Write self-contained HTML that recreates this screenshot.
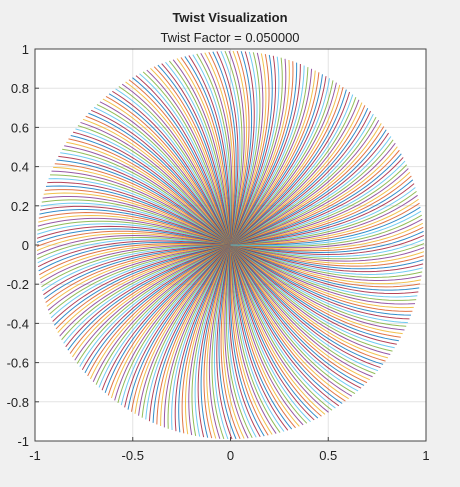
<!DOCTYPE html>
<html><head><meta charset="utf-8"><style>
html,body{margin:0;padding:0;background:#f0f0f0;}
svg{display:block;font-family:"Liberation Sans",sans-serif;}
</style></head><body>
<svg id="chart" width="460" height="487" viewBox="0 0 460 487">
<rect x="0" y="0" width="460" height="487" fill="#f0f0f0"/>
<text x="230" y="22" text-anchor="middle" font-size="13" font-weight="bold" fill="#222">Twist Visualization</text>
<text x="230" y="42" text-anchor="middle" font-size="13" fill="#222">Twist Factor = 0.050000</text>
<rect x="35" y="49" width="391" height="392" fill="#fff"/>
<g id="grid"></g><g id="lines"></g><g id="axes"></g>
</svg>
<script>
const xTicks=[-1,-0.5,0,0.5,1];
const yTicks=[-1,-0.8,-0.6,-0.4,-0.2,0,0.2,0.4,0.6,0.8,1];
const xTickLabels=["-1","-0.5","0","0.5","1"];
const yTickLabels=["-1","-0.8","-0.6","-0.4","-0.2","0","0.2","0.4","0.6","0.8","1"];
const lineCount=[300];
const twistAmount=[0.2];
const colors=["#0072BD","#D95319","#EDB120","#7E2F8E","#77AC30","#4DBEEE","#A2142F"];
const L=35,R=426,T=49,B=441;
const sx=v=>L+(v+1)/2*(R-L), sy=v=>B-(v+1)/2*(B-T);
const NS="http://www.w3.org/2000/svg";
const grid=document.getElementById('grid'),lines=document.getElementById('lines'),axes=document.getElementById('axes');
function mk(tag,attrs,parent){const e=document.createElementNS(NS,tag);for(const k in attrs)e.setAttribute(k,attrs[k]);parent.appendChild(e);return e;}
xTicks.forEach((v,i)=>{
 const g=mk('line',{x1:sx(v),x2:sx(v),y1:T,y2:B,stroke:'#e3e3e3','stroke-width':1},grid);
 
 
 const t=mk('line',{x1:sx(v),x2:sx(v),y1:B,y2:B-4,stroke:'#444'},axes);
 
 
 const l=mk('text',{x:sx(v),y:B+19,'text-anchor':'middle','font-size':13,fill:'#222'},axes);
 l.textContent=xTickLabels[i];
 
 
});
yTicks.forEach((v,i)=>{
 const g=mk('line',{x1:L,x2:R,y1:sy(v),y2:sy(v),stroke:'#e3e3e3','stroke-width':1},grid);
 
 
 const t=mk('line',{x1:L,x2:L+4,y1:sy(v),y2:sy(v),stroke:'#444'},axes);
 
 
 const l=mk('text',{x:L-6,y:sy(v)+5,'text-anchor':'end','font-size':13,fill:'#222'},axes);
 l.textContent=yTickLabels[i];
 
 
});
const N=lineCount[0],k=twistAmount[0];
for(let i=0;i<N;i++){
 const t0=2*Math.PI*i/N;let d='';
 for(let j=0;j<=30;j++){const r=0.99*j/30,th=t0+k*r*r;d+=(j?'L':'M')+sx(r*Math.cos(th)).toFixed(2)+' '+sy(r*Math.sin(th)).toFixed(2);}
 const p=mk('path',{d:d,fill:'none',stroke:colors[i%7],'stroke-width':1,'stroke-opacity':0.8},lines);
 
 
}
const box=mk('rect',{x:L,y:T,width:R-L,height:B-T,fill:'none',stroke:'#444','stroke-width':1},axes);


</script>
</body></html>
